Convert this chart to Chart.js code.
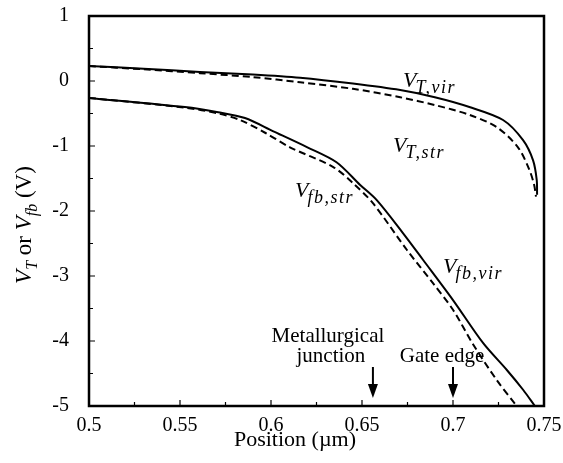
<!DOCTYPE html>
<html>
<head>
<meta charset="utf-8">
<script src="https://cdn.jsdelivr.net/npm/chart.js@4.4.1/dist/chart.umd.min.js"></script>
<style>
  html, body { margin: 0; padding: 0; background: #fff; }
  #wrap { width: 563px; height: 463px; }
</style>
</head>
<body>
<div id="wrap"><canvas id="grafica"></canvas></div>
<script>
// Datos (posición en µm, tensión en V)
const vtVirX = [0.5, 0.53, 0.561, 0.59, 0.616, 0.645, 0.671, 0.69, 0.709, 0.7275, 0.7385, 0.744, 0.746, 0.7462];
const vtVirY = [0.23, 0.19, 0.14, 0.1, 0.05, -0.04, -0.14, -0.25, -0.40, -0.60, -0.91, -1.22, -1.52, -1.75];

const vtStrX = [0.5, 0.53, 0.561, 0.59, 0.616, 0.645, 0.671, 0.69, 0.709, 0.724, 0.7357, 0.742, 0.7446, 0.7456];
const vtStrY = [0.23, 0.18, 0.12, 0.06, -0.02, -0.12, -0.25, -0.37, -0.52, -0.71, -1.02, -1.37, -1.6, -1.78];

const fbVirX = [0.5, 0.5527, 0.571, 0.5857, 0.601, 0.62, 0.636, 0.649, 0.658, 0.6725, 0.6835, 0.70, 0.7165, 0.7297, 0.7385, 0.745];
const fbVirY = [-0.26, -0.4, -0.48, -0.57, -0.77, -1.02, -1.25, -1.6, -1.83, -2.34, -2.75, -3.37, -4.03, -4.45, -4.75, -5.0];

const fbStrX = [0.5, 0.5527, 0.571, 0.583, 0.597, 0.6104, 0.634, 0.645, 0.656, 0.6747, 0.689, 0.70, 0.711, 0.724, 0.735];
const fbStrY = [-0.26, -0.41, -0.5, -0.6, -0.8, -1.02, -1.32, -1.57, -1.88, -2.6, -3.11, -3.52, -4.05, -4.6, -5.0];

// Marcas: unión metalúrgica y borde de puerta
const flechasX = [0.656, 0.7];
const flechasTexto = [["Metallurgical", "junction"], ["Gate edge"]];

const xTicks = [0.5, 0.55, 0.6, 0.65, 0.7, 0.75];
const yTicks = [1, 0, -1, -2, -3, -4, -5];

const serif = "'Liberation Serif', 'DejaVu Serif', serif";

function puntos(xs, ys) {
  return xs.map((x, i) => ({ x: x, y: ys[i] }));
}

function serie(xs, ys, discontinua) {
  return {
    data: puntos(xs, ys),
    borderColor: "#000",
    borderWidth: 2,
    borderDash: discontinua ? [7, 4] : [],
    pointRadius: 0,
    fill: false,
    tension: 0.3
  };
}

// V con subíndice en cursiva
function textoV(ctx, x, y, sub, tam, tamSub) {
  ctx.font = "italic " + tam + "px " + serif;
  ctx.fillText("V", x, y);
  const w = ctx.measureText("V").width;
  ctx.font = "italic " + tamSub + "px " + serif;
  ctx.letterSpacing = "1.5px";
  ctx.fillText(sub, x + w - 1, y + 6);
  ctx.letterSpacing = "0px";
}

const etiquetas = [
  { x: 0.6725, y: -0.09, sub: "T,vir" },
  { x: 0.667, y: -1.09, sub: "T,str" },
  { x: 0.6132, y: -1.785, sub: "fb,str" },
  { x: 0.6945, y: -2.95, sub: "fb,vir" }
];

const dibujo = {
  id: "dibujo",
  afterDraw(chart) {
    const ctx = chart.ctx;
    const a = chart.chartArea;
    const sx = chart.scales.x, sy = chart.scales.y;
    ctx.save();
    ctx.fillStyle = "#000";
    ctx.strokeStyle = "#000";

    // marco
    ctx.lineWidth = 2.5;
    ctx.strokeRect(a.left, a.top, a.right - a.left, a.bottom - a.top);

    // marcas hacia dentro
    ctx.lineWidth = 1.2;
    ctx.beginPath();
    for (let v = 0.5; v <= 0.7501; v += 0.025) {
      const px = sx.getPixelForValue(v);
      const mayor = Math.abs((v / 0.05) - Math.round(v / 0.05)) < 1e-6;
      ctx.moveTo(px, a.bottom);
      ctx.lineTo(px, a.bottom - (mayor ? 6 : 4));
    }
    for (let v = -5; v <= 1.001; v += 0.5) {
      const py = sy.getPixelForValue(v);
      const mayor = Math.abs(v - Math.round(v)) < 1e-6;
      ctx.moveTo(a.left, py);
      ctx.lineTo(a.left + (mayor ? 6 : 4), py);
    }
    ctx.stroke();

    // etiquetas de curvas
    ctx.textAlign = "left";
    ctx.textBaseline = "alphabetic";
    etiquetas.forEach(e => {
      textoV(ctx, sx.getPixelForValue(e.x), sy.getPixelForValue(e.y), e.sub, 22, 18);
    });

    // flechas
    ctx.font = "21px " + serif;
    ctx.textAlign = "center";
    flechasX.forEach((v, i) => {
      const px = sx.getPixelForValue(v);
      const lineas = flechasTexto[i];
      const base = 362;
      lineas.forEach((t, j) => {
        const dx = i === 0 ? (j === 0 ? -45 : -42) : -11;
        ctx.fillText(t, px + dx, base - (lineas.length - 1 - j) * 20);
      });
      ctx.lineWidth = 2;
      ctx.beginPath();
      ctx.moveTo(px, 367);
      ctx.lineTo(px, 386);
      ctx.stroke();
      ctx.beginPath();
      ctx.moveTo(px - 5, 384);
      ctx.lineTo(px + 5, 384);
      ctx.lineTo(px, 398);
      ctx.closePath();
      ctx.fill();
    });

    // título eje x
    ctx.font = "22px " + serif;
    ctx.textAlign = "center";
    ctx.fillText("Position (\u00b5m)", 295, 446);

    // título eje y
    ctx.translate(31, 225);
    ctx.rotate(-Math.PI / 2);
    const partes = [
      ["italic ", 23, "V", 0], ["italic ", 16, "T", 6], ["", 23, " or ", 0],
      ["italic ", 23, "V", 0], ["italic ", 16, "fb", 6], ["", 23, " (V)", 0]
    ];
    let total = 0;
    partes.forEach(p => { ctx.font = p[0] + p[1] + "px " + serif; total += ctx.measureText(p[2]).width; });
    let cx = -total / 2;
    ctx.textAlign = "left";
    partes.forEach(p => {
      ctx.font = p[0] + p[1] + "px " + serif;
      ctx.fillText(p[2], cx, p[3]);
      cx += ctx.measureText(p[2]).width;
    });
    ctx.restore();
  }
};

new Chart(document.getElementById("grafica"), {
  type: "line",
  data: {
    datasets: [
      serie(vtVirX, vtVirY, false),
      serie(vtStrX, vtStrY, true),
      serie(fbVirX, fbVirY, false),
      serie(fbStrX, fbStrY, true)
    ]
  },
  options: {
    responsive: true,
    maintainAspectRatio: false,
    animation: false,
    layout: { padding: { top: 16, right: 19, left: 0, bottom: 0 } },
    plugins: { legend: { display: false }, tooltip: { enabled: false } },
    scales: {
      x: {
        type: "linear",
        min: 0.5,
        max: 0.75,
        afterBuildTicks: s => { s.ticks = xTicks.map(v => ({ value: v })); },
        afterFit: s => { s.height = 57; s.paddingLeft = 0; s.paddingRight = 0; },
        grid: { display: false },
        border: { display: false },
        ticks: {
          color: "#000",
          padding: 0,
          maxRotation: 0,
          font: { family: serif, size: 20 },
          callback: v => String(+Number(v).toFixed(3))
        }
      },
      y: {
        type: "linear",
        min: -5,
        max: 1,
        afterBuildTicks: s => { s.ticks = yTicks.map(v => ({ value: v })); },
        afterFit: s => { s.width = 89; s.paddingTop = 0; s.paddingBottom = 0; },
        grid: { display: false },
        border: { display: false },
        ticks: {
          color: "#000",
          padding: 12,
          font: { family: serif, size: 20 },
          callback: v => String(v)
        }
      }
    }
  },
  plugins: [dibujo]
});
</script>
</body>
</html>
